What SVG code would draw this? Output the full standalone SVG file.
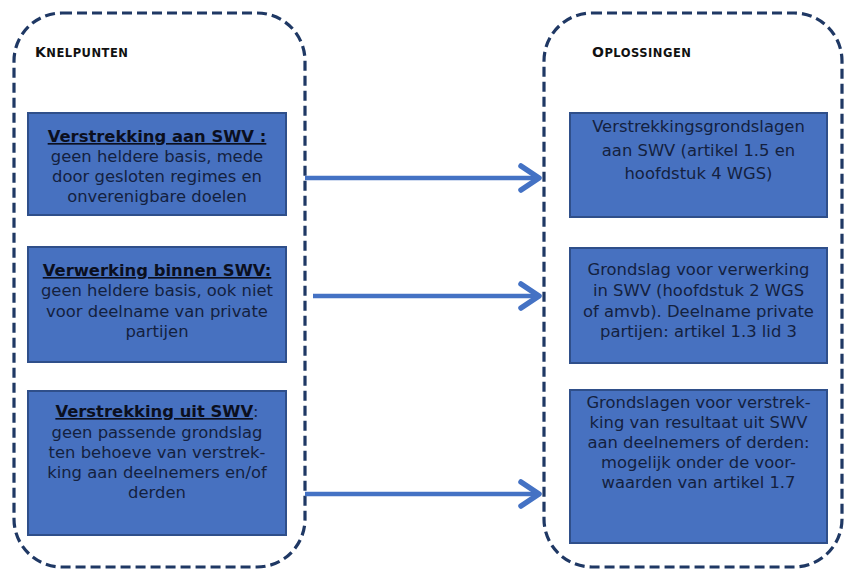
<svg xmlns="http://www.w3.org/2000/svg" width="849" height="571" viewBox="0 0 849 571">
<defs>
<style>
.frame{fill:none;stroke:#1F3864;stroke-width:3.2;stroke-dasharray:10 5}
.box{fill:#4771C0;stroke:#2F4F8A;stroke-width:2}
.hdr{font-family:"DejaVu Sans",Verdana,sans-serif;font-weight:bold;fill:#111}
.t{font-family:"DejaVu Sans",Verdana,sans-serif;font-size:16.4px;fill:#14213F;text-anchor:middle}
.b{font-weight:bold;text-decoration:underline;fill:#0B0F1E}
.arrow{stroke:#4472C4;stroke-width:4.5;fill:none}
.head{stroke:#4472C4;stroke-width:5.5;fill:none;stroke-linecap:round;stroke-linejoin:round}
</style>
</defs>
<rect class="frame" x="14" y="13" width="291" height="554" rx="48" ry="48"/>
<rect class="frame" x="544" y="13" width="298" height="554" rx="48" ry="48"/>
<g id="hdr-knelpunten"><text class="hdr" x="35" y="57" letter-spacing="0.5"><tspan font-size="14">K</tspan><tspan font-size="11.5">NELPUNTEN</tspan></text></g>
<g id="hdr-oplossingen"><text class="hdr" x="592" y="57" letter-spacing="0.5"><tspan font-size="14">O</tspan><tspan font-size="11.5">PLOSSINGEN</tspan></text></g>
<g id="k1"><rect class="box" x="28" y="113" width="258" height="102"/>
<text class="t" x="157"><tspan class="b" x="157" y="142">Verstrekking aan SWV :</tspan><tspan x="157" y="162">geen heldere basis, mede</tspan><tspan x="157" y="182">door gesloten regimes en</tspan><tspan x="157" y="202">onverenigbare doelen</tspan></text></g>
<g id="k2"><rect class="box" x="28" y="247" width="258" height="115"/>
<text class="t" x="157"><tspan class="b" x="157" y="276">Verwerking binnen SWV:</tspan><tspan x="157" y="296">geen heldere basis, ook niet</tspan><tspan x="157" y="317">voor deelname van private</tspan><tspan x="157" y="337">partijen</tspan></text></g>
<g id="k3"><rect class="box" x="28" y="391" width="258" height="144"/>
<text class="t" x="157"><tspan class="b" x="157" y="417">Verstrekking uit SWV</tspan><tspan>:</tspan><tspan x="157" y="438">geen passende grondslag</tspan><tspan x="157" y="458">ten behoeve van verstrek-</tspan><tspan x="157" y="478">king aan deelnemers en/of</tspan><tspan x="157" y="498">derden</tspan></text></g>
<g id="o1"><rect class="box" x="570" y="113" width="257" height="104"/>
<text class="t" x="698.5"><tspan x="698.5" y="132">Verstrekkingsgrondslagen</tspan><tspan x="698.5" y="155.5">aan SWV (artikel 1.5 en</tspan><tspan x="698.5" y="179">hoofdstuk 4 WGS)</tspan></text></g>
<g id="o2"><rect class="box" x="570" y="248" width="257" height="115"/>
<text class="t" x="698.5"><tspan x="698.5" y="275">Grondslag voor verwerking</tspan><tspan x="698.5" y="296">in SWV (hoofdstuk 2 WGS</tspan><tspan x="698.5" y="317">of amvb). Deelname private</tspan><tspan x="698.5" y="337">partijen: artikel 1.3 lid 3</tspan></text></g>
<g id="o3"><rect class="box" x="570" y="390" width="257" height="153"/>
<text class="t" x="698.5"><tspan x="698.5" y="408">Grondslagen voor verstrek-</tspan><tspan x="698.5" y="428">king van resultaat uit SWV</tspan><tspan x="698.5" y="448">aan deelnemers of derden:</tspan><tspan x="698.5" y="468">mogelijk onder de voor-</tspan><tspan x="698.5" y="488">waarden van artikel 1.7</tspan></text></g>
<g id="connectors">
<line class="arrow" x1="305" y1="178" x2="537" y2="178"/>
<path class="head" d="M521 166 L539 178 L521 190"/>
<line class="arrow" x1="313" y1="296" x2="537" y2="296"/>
<path class="head" d="M521 284 L539 296 L521 308"/>
<line class="arrow" x1="305" y1="494" x2="537" y2="494"/>
<path class="head" d="M521 482 L539 494 L521 506"/>
</g>
</svg>
